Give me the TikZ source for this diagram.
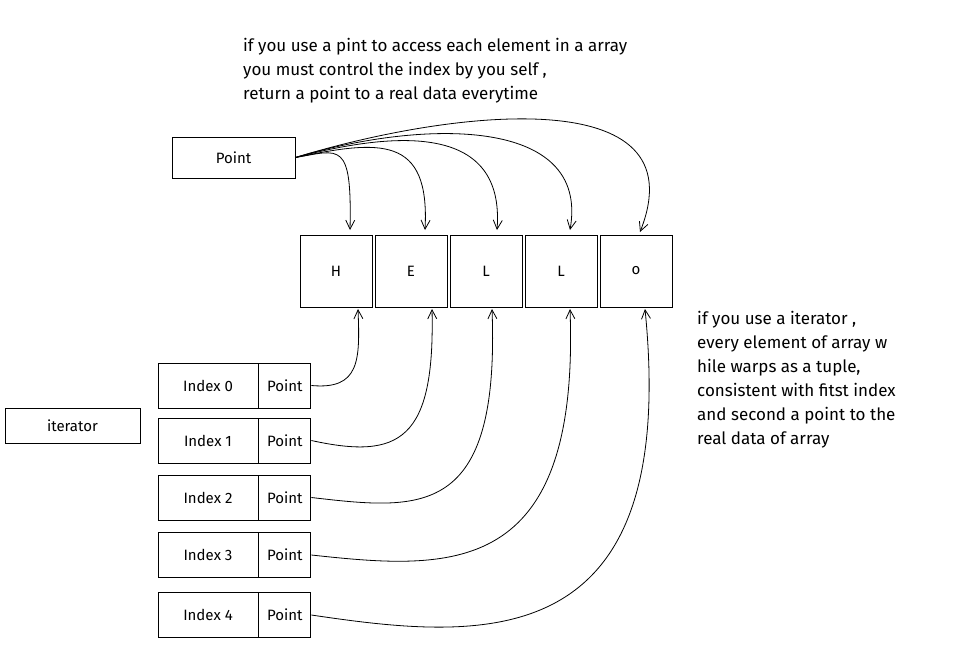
\documentclass[tikz,border=0pt]{standalone}
\usepackage{fontspec}
\setmainfont{Fira Sans}
\usetikzlibrary{arrows.meta}
\begin{document}
\begin{tikzpicture}[x=1pt,y=-1pt,
  box/.style={draw,line width=0.9pt,minimum width=#1,inner sep=0pt,font=\fontsize{15}{16}\selectfont},
  lbl/.style={align=left,anchor=north west,font=\fontsize{17}{24}\selectfont,inner sep=0pt},
  arr/.style={-{Straight Barb[length=9pt,width=9pt]},line width=0.8pt}]
\useasboundingbox (0,0) rectangle (976,661);
\node[box=123pt,minimum height=41pt] (p) at (233.5,157.5) {Point};
\foreach \c/\t [count=\i] in {336/H,411/E,486/L,561/L,636/o}{
  \node[box=72pt,minimum height=72pt] (b\i) at (\c,271) {\t};
}
\foreach \y/\k [count=\i] in {385.5/0,440.5/1,497.5/2,555/3,615/4}{
  \node[box=100pt,minimum height=45pt] (ix\i) at (208,\y) {Index \k};
  \node[box=52pt,minimum height=45pt,anchor=west] (ip\i) at (ix\i.east) {Point};
}
\node[box=135pt,minimum height=35pt] (it) at (72.5,425.5) {iterator};
\node[lbl] (t1) at (243,38) {if you use a pint to access each element in a array\\you must control the index by you self ,\\return a point to a real data everytime};
\node[lbl] (t2) at (697,311) {if you use a iterator ,\\every element of array w\\hile warps as a tuple,\\consistent with fitst index\\and second a point to the\\real data of array};
% top arrows
\draw[arr] (p.east) .. controls (340,150) and (352,140) .. (350,230);
\draw[arr] (p.east) .. controls (380,140) and (430,135) .. (425,230);
\draw[arr] (p.east) .. controls (400,130) and (505,125) .. (497,230);
\draw[arr] (p.east) .. controls (420,120) and (590,115) .. (570,230);
\draw[arr] (p.east) .. controls (450,110) and (700,80) .. (640,232);
% bottom arrows
\draw[arr] (ip1.east) .. controls (360,390) and (360,360) .. (358,309);
\draw[arr] (ip2.east) .. controls (400,460) and (435,440) .. (432,309);
\draw[arr] (ip3.east) .. controls (420,510) and (500,520) .. (492,309);
\draw[arr] (ip4.east) .. controls (450,570) and (580,580) .. (570,309);
\draw[arr] (ip5.east) .. controls (480,640) and (680,660) .. (645,309);
\end{tikzpicture}
\end{document}
